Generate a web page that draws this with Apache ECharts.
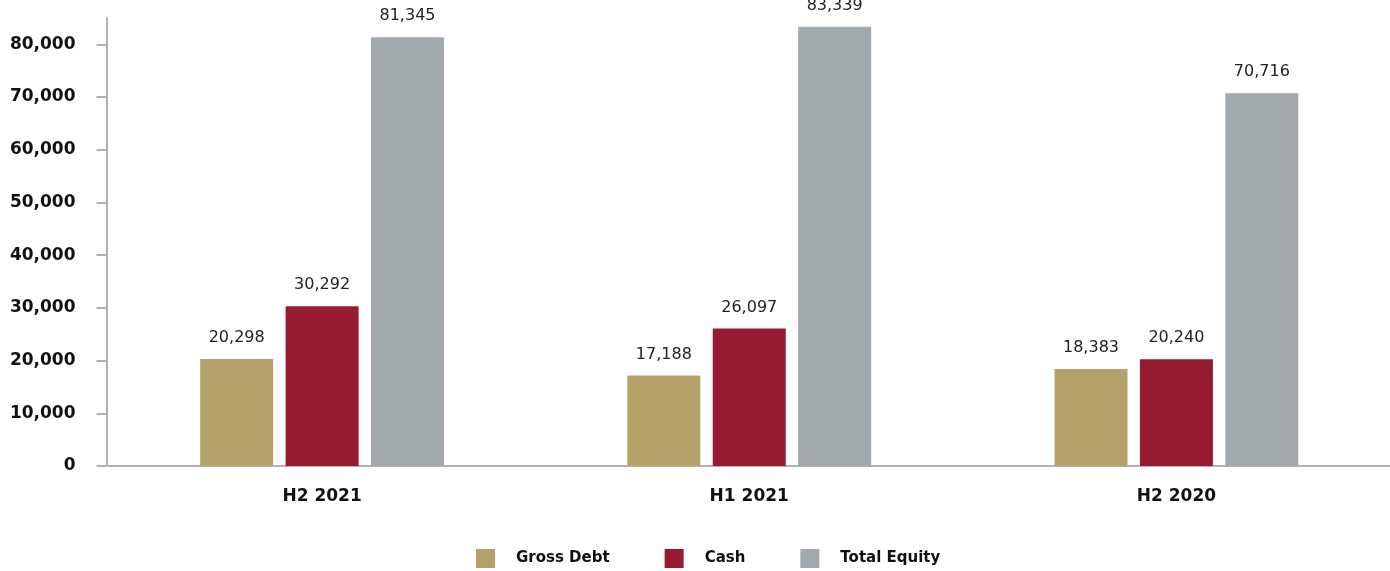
<!DOCTYPE html>
<html>
<head>
<meta charset="utf-8">
<script src="https://cdn.jsdelivr.net/npm/echarts@6/dist/echarts.min.js"></script>
<style>html,body{margin:0;padding:0;background:#fff}#c{width:1390px;height:571px}</style>
</head>
<body>
<div id="c"></div>
<script>
const categories = ['H2 2021', 'H1 2021', 'H2 2020'];
const seriesNames = ['Gross Debt', 'Cash', 'Total Equity'];
const grossDebt = [20298, 17188, 18383];
const cash = [30292, 26097, 20240];
const totalEquity = [81345, 83339, 70716];
const yTicks = [0, 10000, 20000, 30000, 40000, 50000, 60000, 70000, 80000];
const colors = ['#B5A26A', '#961B30', '#A2A9AC'];

const chart = echarts.init(document.getElementById('c'), null, {renderer: 'canvas'});
const fmt = v => v.toLocaleString('en-US');
function mk(name, data, color) {
  return {
    name, type: 'bar', data, barWidth: 73, barGap: '17%',
    itemStyle: {color},
    label: {
      show: true, position: 'top', distance: 13,
      formatter: p => fmt(p.value),
      fontFamily: 'DejaVu Sans', fontSize: 16, color: '#222'
    }
  };
}
chart.setOption({
  animation: false,
  grid: {left: 108.5, right: -2.5, top: 18, bottom: 105, containLabel: false},
  legend: {
    left: 476, bottom: 3, padding: 0, itemWidth: 19, itemHeight: 19, itemGap: 55,
    icon: 'rect',
    textStyle: {fontFamily: 'DejaVu Sans', fontWeight: 'bold', fontSize: 15, color: '#111', padding: [0, 0, 0, 16]},
    data: seriesNames
  },
  xAxis: {
    type: 'category', data: categories,
    axisLine: {lineStyle: {color: '#999', width: 1.5}},
    axisTick: {show: false},
    axisLabel: {margin: 22, fontFamily: 'DejaVu Sans', fontWeight: 'bold', fontSize: 17, color: '#111'}
  },
  yAxis: {
    type: 'value', min: 0, max: 85000, interval: 10000, offset: 2,
    splitLine: {show: false},
    axisLine: {show: true, lineStyle: {color: '#999', width: 1.5}},
    axisTick: {show: true, length: 10, customValues: yTicks, lineStyle: {color: '#999', width: 1.5}},
    axisLabel: {
      margin: 31, customValues: yTicks, formatter: v => fmt(v),
      fontFamily: 'DejaVu Sans', fontWeight: 'bold', fontSize: 17, color: '#111'
    }
  },
  series: [
    mk(seriesNames[0], grossDebt, colors[0]),
    mk(seriesNames[1], cash, colors[1]),
    mk(seriesNames[2], totalEquity, colors[2])
  ]
});
</script>
</body>
</html>
